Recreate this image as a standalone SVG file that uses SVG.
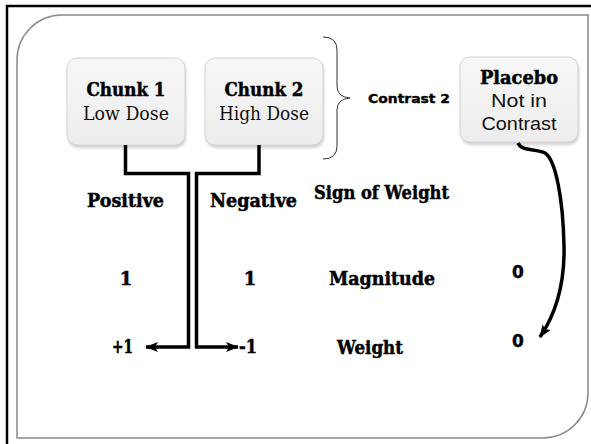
<svg xmlns="http://www.w3.org/2000/svg" width="591" height="444" viewBox="0 0 591 444">
<defs>
<style>
.box{fill:url(#g);stroke:#d4d4d4;stroke-width:1}
.shadow{fill:#000;opacity:0.18}
.b{font-family:"DejaVu Serif","Liberation Serif",serif;font-weight:bold;fill:#000;stroke:#000;stroke-width:0.5}
.r{font-family:"DejaVu Serif","Liberation Serif",serif;fill:#111}
.s{font-family:"Liberation Sans",Arial,sans-serif;fill:#111}
.sb{font-family:"DejaVu Sans","Liberation Sans",sans-serif;font-weight:bold;fill:#000;stroke:#000;stroke-width:0.4}
.con{fill:none;stroke:#000;stroke-width:3.5}
</style>
<linearGradient id="g" x1="0" y1="0" x2="0" y2="1">
<stop offset="0" stop-color="#f7f7f7"/>
<stop offset="1" stop-color="#ededed"/>
</linearGradient>
<filter id="blur" x="-20%" y="-20%" width="140%" height="140%"><feGaussianBlur stdDeviation="1.5"/></filter>
<marker id="ah" markerWidth="13" markerHeight="10" refX="12" refY="5" orient="auto" markerUnits="userSpaceOnUse">
<path d="M0,0 L13,5 L0,10 L3,5 Z" fill="#000"/>
</marker>
</defs>
<rect x="0" y="0" width="591" height="444" fill="#fff"/>
<rect x="7" y="6" width="600" height="460" fill="none" stroke="#000" stroke-width="2.5"/>
<path d="M17,438 V60 A45,45 0 0 1 62,15 H588 V393 A45,45 0 0 1 543,438 Z" fill="none" stroke="#8a8a8a" stroke-width="1.5"/>

<g id="chunk1">
<rect class="shadow" x="68" y="60" width="118" height="88" rx="10" filter="url(#blur)"/>
<rect class="box" x="67" y="58" width="118" height="87" rx="10"/>
<text class="b" x="126" y="96" font-size="18" text-anchor="middle" textLength="79" lengthAdjust="spacingAndGlyphs">Chunk 1</text>
<text class="r" x="126" y="120" font-size="18" text-anchor="middle" textLength="86" lengthAdjust="spacingAndGlyphs">Low Dose</text>
</g>
<g id="chunk2">
<rect class="shadow" x="206" y="60" width="118" height="88" rx="10" filter="url(#blur)"/>
<rect class="box" x="205" y="58" width="118" height="87" rx="10"/>
<text class="b" x="264" y="96" font-size="18" text-anchor="middle" textLength="79" lengthAdjust="spacingAndGlyphs">Chunk 2</text>
<text class="r" x="264" y="120" font-size="18" text-anchor="middle" textLength="90" lengthAdjust="spacingAndGlyphs">High Dose</text>
</g>
<g id="placebo">
<rect class="shadow" x="461" y="59" width="118" height="86" rx="10" filter="url(#blur)"/>
<rect class="box" x="460" y="57" width="118" height="85" rx="10"/>
<text class="b" x="519" y="84" font-size="18" text-anchor="middle" textLength="78" lengthAdjust="spacingAndGlyphs">Placebo</text>
<text class="s" x="519" y="107" font-size="19" text-anchor="middle" textLength="56" lengthAdjust="spacingAndGlyphs">Not in</text>
<text class="s" x="519" y="130" font-size="19" text-anchor="middle" textLength="75" lengthAdjust="spacingAndGlyphs">Contrast</text>
</g>
<g id="brace">
<path d="M323,37 Q337,37 337,50 V86 Q337,97 350,98 Q337,99 337,110 V146 Q337,159 323,159" fill="none" stroke="#333" stroke-width="1"/>
<text class="sb" x="368" y="103" font-size="13" textLength="82" lengthAdjust="spacingAndGlyphs">Contrast 2</text>
</g>
<g id="labels">
<text class="b" x="87" y="207" font-size="18" textLength="77" lengthAdjust="spacingAndGlyphs">Positive</text>
<text class="b" x="210" y="207" font-size="18" textLength="87" lengthAdjust="spacingAndGlyphs">Negative</text>
<text class="b" x="314" y="199" font-size="18" textLength="135" lengthAdjust="spacingAndGlyphs">Sign of Weight</text>
<text class="b" x="126" y="285" font-size="18" text-anchor="middle">1</text>
<text class="b" x="250" y="285" font-size="18" text-anchor="middle">1</text>
<text class="b" x="329" y="285" font-size="18" textLength="106" lengthAdjust="spacingAndGlyphs">Magnitude</text>
<text class="sb" x="518" y="278" font-size="17" text-anchor="middle">0</text>
<text class="b" x="112" y="353" font-size="18" textLength="21" lengthAdjust="spacingAndGlyphs">+1</text>
<text class="b" x="239" y="353" font-size="18" textLength="18" lengthAdjust="spacingAndGlyphs">-1</text>
<text class="b" x="337" y="354" font-size="18" textLength="66" lengthAdjust="spacingAndGlyphs">Weight</text>
<text class="sb" x="518" y="347" font-size="17" text-anchor="middle">0</text>
</g>
<g id="connectors">
<path class="con" d="M125.5,145 V173.5 H188.5 V347 H146" marker-end="url(#ah)"/>
<path class="con" d="M259,145 V173.5 H196.5 V347 H238" marker-end="url(#ah)"/>
<path class="con" d="M518,143 C522,152 536,148 545,153 C556,160 563,200 564,245 C565,285 555,315 540,337" marker-end="url(#ah)"/>
</g>
</svg>
